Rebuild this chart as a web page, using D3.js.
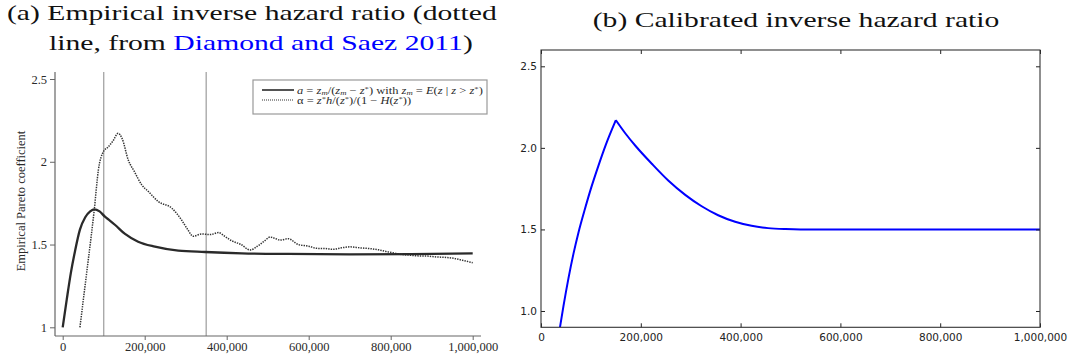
<!DOCTYPE html>
<html>
<head>
<meta charset="utf-8">
<script src="https://cdn.jsdelivr.net/npm/d3@7"></script>
<style>
html, body { margin: 0; padding: 0; background: #fff; }
svg { display: block; }
</style>
</head>
<body>
<svg id="chart" width="1070" height="360"></svg>
<script>
// ---- panel (a): empirical curves ----
const empX = [0, 10000, 20000, 30000, 42000, 55000, 67000, 77000, 90000, 103000, 115000, 128000,
    152000, 184000, 225000, 282000, 347000, 437000, 550000, 700000, 850000, 1000000];
const aVals = [1.00, 1.17, 1.33, 1.46, 1.59, 1.665, 1.70, 1.713, 1.70, 1.668, 1.645, 1.618,
    1.564, 1.517, 1.487, 1.463, 1.455, 1.447, 1.443, 1.441, 1.442, 1.446];

const alphaX = [42000, 52000, 62000, 70000, 77000, 87000, 99000, 111000, 123000, 135000, 145000,
    160000, 175000, 193000, 209000, 233000, 266000, 290000, 305000, 318000, 339000, 360000,
    380000, 395000, 412000, 435000, 457000, 475000, 490000, 506000, 520000, 530000, 550000,
    575000, 600000, 620000, 640000, 660000, 680000, 701000, 725000, 750000, 770000, 790000,
    805000, 823000, 845000, 863000, 890000, 912000, 935000, 953000, 975000, 1000000];
const alphaVals = [1.00, 1.20, 1.40, 1.56, 1.71, 1.95, 2.06, 2.09, 2.127, 2.172, 2.14,
    2.01, 1.94, 1.86, 1.82, 1.76, 1.72, 1.648, 1.59, 1.55, 1.564, 1.56,
    1.572, 1.55, 1.523, 1.50, 1.467, 1.49, 1.517, 1.545, 1.535, 1.527, 1.535,
    1.50, 1.49, 1.477, 1.476, 1.471, 1.48, 1.486, 1.48, 1.475, 1.468, 1.457,
    1.45, 1.441, 1.436, 1.432, 1.43, 1.425, 1.422, 1.417, 1.405, 1.39];

const markerX = [100000, 350000];       // grey vertical reference lines
const leftYTicks = [1, 1.5, 2, 2.5];
const xTicks = [0, 200000, 400000, 600000, 800000, 1000000];

// ---- panel (b): calibrated inverse hazard ratio ----
const calX = [38000, 45000, 55000, 65000, 75000, 88000, 100000, 115000, 130000, 150000,
    170000, 190000, 222000, 255000, 289000, 322000, 355000, 389000, 422000, 455000, 490000, 520000, 1000000];
const calVals = [0.90, 1.03, 1.20, 1.35, 1.48, 1.625, 1.75, 1.89, 2.02, 2.17,
    2.085, 2.01, 1.903, 1.80, 1.712, 1.642, 1.587, 1.547, 1.522, 1.508, 1.502, 1.50, 1.50];
const rightYTicks = [1.0, 1.5, 2.0, 2.5];

const svg = d3.select("#chart");
const serif = "'Liberation Serif', 'Times New Roman', serif";
const sans = "'DejaVu Sans', sans-serif";

// ================= titles =================
function titleText(parts) {
    const t = svg.append("text")
        .attr("font-family", serif)
        .attr("font-size", 21)
        .attr("fill", "#111");
    parts.forEach(p => t.append("tspan").attr("fill", p[1] || null).text(p[0]));
    return t;
}
const t1 = titleText([["(a) Empirical inverse hazard ratio (dotted"]]);
const t2 = titleText([["line, from "], ["Diamond and Saez 2011", "#0000ff"], [")"]]);
const t3 = titleText([["(b) Calibrated inverse hazard ratio"]]);
// stretch the serif to the width of the LaTeX caption
const sx = 490 / t1.node().getComputedTextLength();
t1.attr("transform", `translate(7,20) scale(${sx},1)`);
t2.attr("transform", `translate(49,50) scale(${sx},1)`);
t3.attr("text-anchor", "middle").attr("transform", `translate(796,27) scale(${sx},1)`);

// ================= panel (a) =================
const A = { left: 55, right: 481, top: 72, bottom: 336 };
const xa = d3.scaleLinear().domain([0, 1000000]).range([62.7, 472.7]);
const ya = d3.scaleLinear().domain([1, 2.5]).range([327.3, 79]);
const ga = svg.append("g");

// reference lines
ga.selectAll("line.marker").data(markerX).join("line")
    .attr("class", "marker")
    .attr("x1", d => xa(d)).attr("x2", d => xa(d))
    .attr("y1", A.top).attr("y2", A.bottom)
    .attr("stroke", "#aaa").attr("stroke-width", 1.4);

// axes
const axA_x = d3.axisBottom(xa).tickValues(xTicks).tickFormat(d3.format(",")).tickSize(4).tickSizeOuter(0).tickPadding(2);
const axA_y = d3.axisLeft(ya).tickValues(leftYTicks).tickFormat(d => String(d)).tickSize(5).tickSizeOuter(0).tickPadding(3);
const gxa = ga.append("g").attr("transform", `translate(0,${A.bottom})`).call(axA_x);
const gya = ga.append("g").attr("transform", `translate(${A.left},0)`).call(axA_y);
[gxa, gya].forEach(g => {
    g.select(".domain").remove();
    g.selectAll("line").attr("stroke", "#666");
    g.selectAll("text").attr("font-family", serif).attr("font-size", 12.5).attr("fill", "#2a2a2a");
});
ga.append("line").attr("x1", A.left).attr("x2", A.right).attr("y1", A.bottom).attr("y2", A.bottom)
    .attr("stroke", "#666").attr("stroke-width", 1.2);
ga.append("line").attr("x1", A.left).attr("x2", A.left).attr("y1", A.top).attr("y2", A.bottom)
    .attr("stroke", "#666").attr("stroke-width", 1.2);

ga.append("text")
    .attr("transform", `translate(21,201) rotate(-90)`)
    .attr("dy", "0.35em")
    .attr("text-anchor", "middle")
    .attr("font-family", serif).attr("font-size", 12.5).attr("fill", "#2a2a2a")
    .text("Empirical Pareto coefficient");

const lineA = d3.line().x(d => xa(d[0])).y(d => ya(d[1])).curve(d3.curveMonotoneX);
ga.append("path")
    .attr("d", lineA(alphaX.map((x, i) => [x, alphaVals[i]])))
    .attr("fill", "none").attr("stroke", "#333").attr("stroke-width", 1.5)
    .attr("stroke-dasharray", "1.4,1.1");
ga.append("path")
    .attr("d", lineA(empX.map((x, i) => [x, aVals[i]])))
    .attr("fill", "none").attr("stroke", "#2a2a2a").attr("stroke-width", 2.3);

// legend
const leg = ga.append("g");
leg.append("rect").attr("x", 253).attr("y", 80).attr("width", 234).attr("height", 34)
    .attr("fill", "#fff").attr("stroke", "#999").attr("stroke-width", 1.2);
leg.append("line").attr("x1", 262).attr("x2", 294).attr("y1", 90).attr("y2", 90)
    .attr("stroke", "#2a2a2a").attr("stroke-width", 1.6);
leg.append("line").attr("x1", 262).attr("x2", 294).attr("y1", 100).attr("y2", 100)
    .attr("stroke", "#333").attr("stroke-width", 1.2).attr("stroke-dasharray", "1,1");

function mathText(parts) {
    const t = leg.append("text").attr("font-family", serif).attr("font-size", 10).attr("fill", "#2a2a2a");
    parts.forEach(p => {
        const [s, k] = p;
        const ts = t.append("tspan").text(s);
        if (k === "i") ts.attr("font-style", "italic");
        if (k === "sub") ts.attr("font-size", 7).attr("font-style", "italic").attr("baseline-shift", "-25%");
        if (k === "sup") ts.attr("font-size", 7).attr("baseline-shift", "35%");
    });
    return t;
}
const l1 = mathText([["a", "i"], [" = "], ["z", "i"], ["m", "sub"], ["/("], ["z", "i"], ["m", "sub"], [" \u2212 "],
    ["z", "i"], ["*", "sup"], [") with "], ["z", "i"], ["m", "sub"], [" = "], ["E", "i"], ["("], ["z", "i"],
    [" | "], ["z", "i"], [" > "], ["z", "i"], ["*", "sup"], [")"]]);
const l2 = mathText([["\u03b1 = "], ["z", "i"], ["*", "sup"], ["h", "i"], ["/("], ["z", "i"], ["*", "sup"],
    [")/(1 \u2212 "], ["H", "i"], ["("], ["z", "i"], ["*", "sup"], ["))"]]);
const lsx = 186 / l1.node().getComputedTextLength();
l1.attr("transform", `translate(297,93.5) scale(${lsx},1)`);
l2.attr("transform", `translate(297,104) scale(${lsx},1)`);

// ================= panel (b) =================
const B = { left: 541, right: 1040, top: 50, bottom: 327.3 };
const xb = d3.scaleLinear().domain([0, 1000000]).range([B.left, B.right]);
const yb = d3.scaleLinear().domain([0.9, 2.6]).range([B.bottom, B.top]);
const gb = svg.append("g");

gb.append("clipPath").attr("id", "clipB").append("rect")
    .attr("x", B.left).attr("y", B.top).attr("width", B.right - B.left).attr("height", B.bottom - B.top);

// the calibrated ratio has a kink at its peak: draw both sides separately
const peak = calVals.indexOf(d3.max(calVals));
const pts = calX.map((x, i) => [x, calVals[i]]);
const lineB = d3.line().x(d => xb(d[0])).y(d => yb(d[1])).curve(d3.curveMonotoneX);
gb.append("path")
    .attr("clip-path", "url(#clipB)")
    .attr("d", lineB(pts.slice(0, peak + 1)) + lineB(pts.slice(peak)))
    .attr("fill", "none").attr("stroke", "#0000ff").attr("stroke-width", 2)
    .attr("stroke-linejoin", "miter");

// inward ticks on all four sides, matplotlib classic style
const fmtX = d3.format(",");
const axes = [
    [d3.axisBottom(xb).tickValues(xTicks).tickFormat(fmtX).tickPadding(6), `translate(0,${B.bottom})`],
    [d3.axisTop(xb).tickValues(xTicks).tickFormat(""), `translate(0,${B.top})`],
    [d3.axisLeft(yb).tickValues(rightYTicks).tickFormat(d3.format(".1f")).tickPadding(4), `translate(${B.left},0)`],
    [d3.axisRight(yb).tickValues(rightYTicks).tickFormat(""), `translate(${B.right},0)`]
];
axes.forEach(([ax, tr]) => {
    const g = gb.append("g").attr("transform", tr).call(ax.tickSizeInner(-4).tickSizeOuter(0));
    g.select(".domain").remove();
    g.selectAll("line").attr("stroke", "#222");
    g.selectAll("text").attr("font-family", sans).attr("font-size", 10.5).attr("fill", "#222");
});
gb.append("rect")
    .attr("x", B.left).attr("y", B.top).attr("width", B.right - B.left).attr("height", B.bottom - B.top)
    .attr("fill", "none").attr("stroke", "#333").attr("stroke-width", 1.1);
</script>
</body>
</html>
